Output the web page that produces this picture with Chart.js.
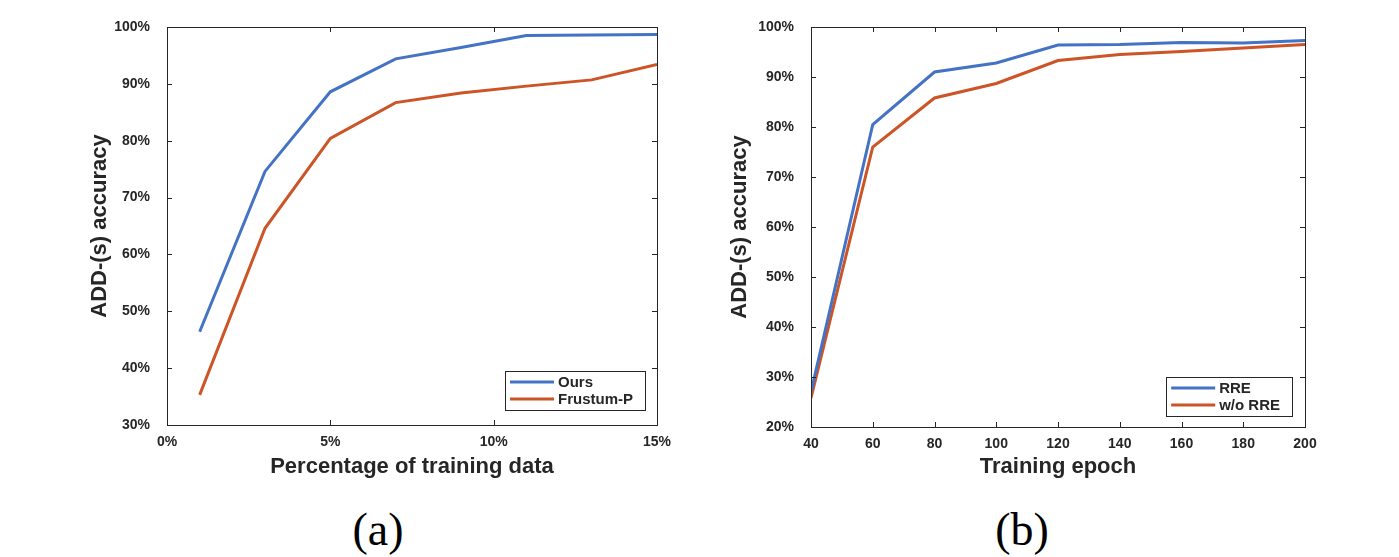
<!DOCTYPE html>
<html>
<head>
<meta charset="utf-8">
<script src="https://cdn.jsdelivr.net/npm/chart.js@4/dist/chart.umd.min.js"></script>
<style>
  body { margin: 0; background: #fff; width: 1399px; height: 557px; position: relative; overflow: hidden; }
  .box { position: absolute; top: 0; height: 500px; }
  .cap { position: absolute; top: 500px; width: 200px; text-align: center;
         font-family: "Liberation Serif", serif; font-size: 46px; line-height: 60px; color: #000; }
</style>
</head>
<body>
<div class="box" style="left:0;width:700px"><canvas id="chartA"></canvas></div>
<div class="box" style="left:700px;width:699px"><canvas id="chartB"></canvas></div>
<div class="cap" style="left:278px">(a)</div>
<div class="cap" style="left:922px">(b)</div>
<script>
// (a) accuracy vs percentage of training data
var pctX = [1, 3, 5, 7, 9, 11, 13, 15];
var oursAcc = [46.4, 74.6, 88.6, 94.4, 96.4, 98.5, 98.6, 98.7];
var frustumAcc = [35.3, 64.6, 80.4, 86.7, 88.4, 89.6, 90.7, 93.4];

// (b) accuracy vs training epoch
var epochX = [40, 60, 80, 100, 120, 140, 160, 180, 200];
var rreAcc = [27.0, 80.5, 91.0, 92.8, 96.4, 96.5, 96.9, 96.8, 97.3];
var woRreAcc = [25.8, 76.0, 85.8, 88.7, 93.3, 94.5, 95.1, 95.8, 96.5];

var BLUE = '#4472C4';
var ORANGE = '#CC5427';
var INK = '#262626';

function pts(xs, ys) {
    var out = [];
    for (var i = 0; i < xs.length; i++) out.push({x: xs[i], y: ys[i]});
    return out;
}

// matlab style box with inward ticks + legend in lower right
var boxPlugin = {
    id: 'matlabBox',
    afterDatasetsDraw: function(chart) {
        var ctx = chart.ctx, a = chart.chartArea;
        var xs = chart.scales.x, ys = chart.scales.y;
        ctx.save();
        ctx.strokeStyle = INK;
        ctx.lineWidth = 1;
        ctx.strokeRect(a.left + 0.5, a.top + 0.5, a.right - a.left, a.bottom - a.top);
        ctx.beginPath();
        xs.ticks.forEach(function(t) {
            var px = Math.round(xs.getPixelForValue(t.value)) + 0.5;
            ctx.moveTo(px, a.bottom); ctx.lineTo(px, a.bottom - 5);
            ctx.moveTo(px, a.top); ctx.lineTo(px, a.top + 5);
        });
        ys.ticks.forEach(function(t) {
            var py = Math.round(ys.getPixelForValue(t.value)) + 0.5;
            ctx.moveTo(a.left, py); ctx.lineTo(a.left + 5, py);
            ctx.moveTo(a.right, py); ctx.lineTo(a.right - 5, py);
        });
        ctx.stroke();

        var opt = chart.options.plugins.matlabBox;
        ctx.font = 'bold 15px "Liberation Sans", Arial, sans-serif';
        var tw = 0;
        chart.data.datasets.forEach(function(d) { tw = Math.max(tw, ctx.measureText(d.label).width); });
        var w = 5 + opt.sample + 4 + tw + 12, h = 39;
        var bx = a.right - opt.right - w, by = a.bottom - opt.bottom - h;
        ctx.fillStyle = '#fff';
        ctx.fillRect(bx, by, w, h);
        ctx.strokeStyle = INK;
        ctx.strokeRect(Math.round(bx) + 0.5, Math.round(by) + 0.5, Math.round(w), h);
        chart.data.datasets.forEach(function(d, i) {
            var cy = by + 11 + i * 17;
            ctx.strokeStyle = d.borderColor;
            ctx.lineWidth = 3;
            ctx.beginPath();
            ctx.moveTo(bx + 5, cy); ctx.lineTo(bx + 5 + opt.sample, cy);
            ctx.stroke();
            ctx.fillStyle = INK;
            ctx.textBaseline = 'middle';
            ctx.fillText(d.label, bx + 5 + opt.sample + 4, cy + 1);
        });
        ctx.restore();
    }
};

function makeChart(id, conf) {
    var tickFont = {family: '"Liberation Sans", Arial, sans-serif', size: 14, weight: 'bold'};
    var titleFont = {family: '"Liberation Sans", Arial, sans-serif', size: 22, weight: 'bold'};
    return new Chart(document.getElementById(id), {
        type: 'line',
        data: {
            datasets: [
                {label: conf.names[0], data: pts(conf.xs, conf.a), borderColor: BLUE, borderWidth: 3, pointRadius: 0, fill: false, tension: 0},
                {label: conf.names[1], data: pts(conf.xs, conf.b), borderColor: ORANGE, borderWidth: 3, pointRadius: 0, fill: false, tension: 0}
            ]
        },
        options: {
            responsive: true,
            maintainAspectRatio: false,
            animation: false,
            layout: {padding: conf.pad},
            plugins: {
                legend: {display: false},
                tooltip: {enabled: false},
                matlabBox: conf.legend
            },
            scales: {
                x: {
                    type: 'linear', min: conf.xmin, max: conf.xmax,
                    afterFit: function(s) { s.height = conf.xh; },
                    grid: {display: false}, border: {display: false},
                    ticks: {stepSize: conf.xstep, font: tickFont, color: INK, padding: 1, maxRotation: 0,
                            callback: conf.xfmt},
                    title: {display: true, text: conf.xtitle, font: titleFont, color: INK}
                },
                y: {
                    min: conf.ymin, max: 100,
                    afterFit: function(s) { s.width = conf.yw; },
                    grid: {display: false}, border: {display: false},
                    ticks: {stepSize: 10, font: tickFont, color: INK, padding: 9,
                            callback: function(v) { return v + '%'; }},
                    title: {display: true, text: 'ADD-(s) accuracy', font: titleFont, color: INK}
                }
            }
        },
        plugins: [boxPlugin]
    });
}

makeChart('chartA', {
    names: ['Ours', 'Frustum-P'], xs: pctX, a: oursAcc, b: frustumAcc,
    xmin: 0, xmax: 15, xstep: 5, ymin: 30,
    xfmt: function(v) { return v + '%'; },
    xtitle: 'Percentage of training data',
    pad: {left: 83, top: 27, right: 43, bottom: 16},
    yw: 84, xh: 59,
    legend: {right: 12, bottom: 15, sample: 44}
});

makeChart('chartB', {
    names: ['RRE', 'w/o RRE'], xs: epochX, a: rreAcc, b: woRreAcc,
    xmin: 40, xmax: 200, xstep: 20, ymin: 20,
    xfmt: function(v) { return v; },
    xtitle: 'Training epoch',
    pad: {left: 23, top: 27, right: 94, bottom: 16},
    yw: 88, xh: 57,
    legend: {right: 13, bottom: 11, sample: 44}
});
</script>
</body>
</html>
